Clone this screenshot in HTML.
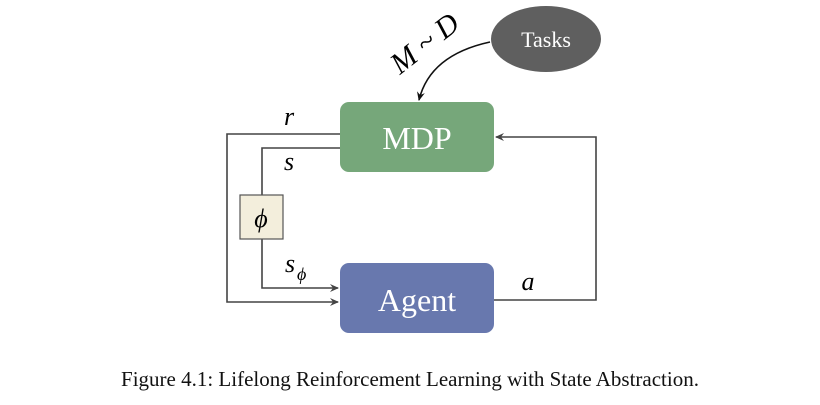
<!DOCTYPE html>
<html><head><style>
body{margin:0;background:#fff;width:820px;height:400px;overflow:hidden;}
</style></head><body>
<svg width="820" height="400" xmlns="http://www.w3.org/2000/svg" font-family="Liberation Serif, serif">
<defs>
<marker id="ah" markerWidth="10" markerHeight="10" refX="8" refY="5" orient="auto" markerUnits="userSpaceOnUse">
<path d="M0,1 L9,5 L0,9 L3,5 Z" fill="#444"/></marker>
<marker id="ah2" markerWidth="10" markerHeight="10" refX="8" refY="5" orient="auto" markerUnits="userSpaceOnUse">
<path d="M0,1 L9,5 L0,9 L3,5 Z" fill="#111"/></marker>
</defs>
<ellipse cx="546" cy="39" rx="55" ry="33" fill="#5f5f5f"/>
<text x="546" y="47" fill="#fff" font-size="22" text-anchor="middle">Tasks</text>
<path d="M490,42 Q430,55 419,100" fill="none" stroke="#111" stroke-width="1.6" marker-end="url(#ah2)"/>
<text x="0" y="0" font-size="30" font-style="italic" transform="translate(400,75) rotate(-38)">M ~ D</text>
<rect x="340" y="102" width="154" height="70" rx="9" fill="#76a77a"/>
<text x="417" y="149" fill="#fff" font-size="32" text-anchor="middle">MDP</text>
<rect x="340" y="263" width="154" height="70" rx="9" fill="#6878ae"/>
<text x="417" y="311" fill="#fff" font-size="32" text-anchor="middle">Agent</text>
<g fill="none" stroke="#444" stroke-width="1.6">
<polyline points="340,134 227,134 227,302 338,302" marker-end="url(#ah)"/>
<polyline points="340,148 262,148 262,195"/>
<polyline points="262,239 262,288 338,288" marker-end="url(#ah)"/>
<polyline points="494,300 596,300 596,137 496,137" marker-end="url(#ah)"/>
</g>
<rect x="240" y="195" width="43" height="44" fill="#f3eedc" stroke="#555" stroke-width="1.2"/>
<text x="261" y="227" font-size="26" font-style="italic" text-anchor="middle">ϕ</text>
<text x="289" y="125" font-size="26" font-style="italic" text-anchor="middle">r</text>
<text x="289" y="170" font-size="26" font-style="italic" text-anchor="middle">s</text>
<text x="285" y="272" font-size="26" font-style="italic">s</text>
<text x="297" y="280" font-size="18" font-style="italic">ϕ</text>
<text x="528" y="290" font-size="26" font-style="italic" text-anchor="middle">a</text>
<text x="410" y="386" font-size="21" text-anchor="middle" fill="#111">Figure 4.1: Lifelong Reinforcement Learning with State Abstraction.</text>
</svg>
</body></html>
